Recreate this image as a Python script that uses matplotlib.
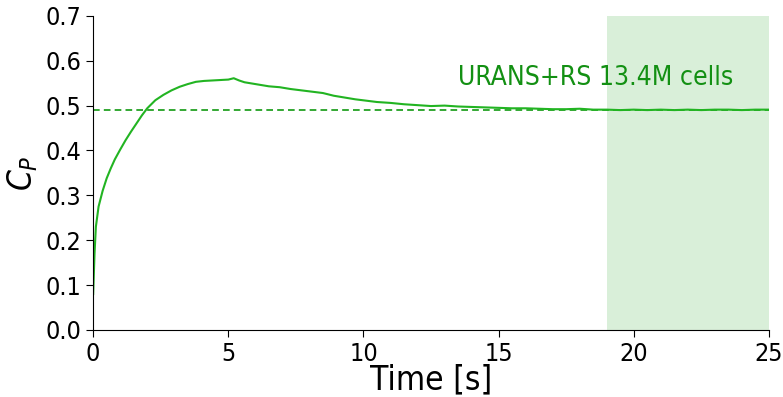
import matplotlib.pyplot as plt

# C_P history
t = [0, 0.05, 0.1, 0.2, 0.35, 0.5, 0.65, 0.8, 1.0, 1.2, 1.4, 1.6, 1.8, 2.0,
     2.3, 2.6, 2.9, 3.2, 3.5, 3.8, 4.1, 4.4, 4.7, 5.0, 5.2, 5.4, 5.6, 5.9,
     6.2, 6.5, 6.9, 7.3, 7.7, 8.1, 8.5, 8.9, 9.3, 9.7, 10.1, 10.5, 11.0,
     11.5, 12.0, 12.5, 13.0, 13.5, 14.0, 14.5, 15.0, 15.5, 16.0, 16.5, 17.0,
     17.5, 18.0, 18.5, 19.0, 19.5, 20.0, 20.5, 21.0, 21.5, 22.0, 22.5, 23.0,
     23.5, 24.0, 24.5, 25.0]
cp = [0.08, 0.17, 0.23, 0.275, 0.31, 0.338, 0.36, 0.38, 0.402, 0.423,
      0.442, 0.46, 0.478, 0.494, 0.512, 0.524, 0.534, 0.542, 0.548, 0.553,
      0.555, 0.556, 0.557, 0.558, 0.561, 0.556, 0.552, 0.549, 0.546, 0.543,
      0.541, 0.537, 0.534, 0.531, 0.528, 0.522, 0.518, 0.514, 0.511, 0.508,
      0.506, 0.503, 0.501, 0.499, 0.500, 0.498, 0.497, 0.496, 0.495, 0.494,
      0.494, 0.493, 0.492, 0.492, 0.493, 0.491, 0.491, 0.490, 0.491, 0.490,
      0.491, 0.490, 0.491, 0.490, 0.491, 0.491, 0.490, 0.491, 0.491]
cp_mean = 0.49
avg_window = (19, 25)
label = "URANS+RS 13.4M cells"

plt.rcParams["font.stretch"] = "condensed"

fig = plt.figure(figsize=(7.83, 3.97), dpi=100)
ax = fig.add_axes([0.119, 0.169, 0.863, 0.791])

ax.axvspan(avg_window[0], avg_window[1], color="#d9efd9", lw=0)
ax.axhline(cp_mean, color="#119911", linestyle="--", linewidth=1.2, dashes=(4, 2.5))
ax.plot(t, cp, color="#22b422", linewidth=1.5)
ax.text(13.5, 0.562, label, color="#139013", fontsize=19, va="center")

ax.set_xlim(0, 25)
ax.set_ylim(0, 0.7)
ax.set_xticks([0, 5, 10, 15, 20, 25])
ax.set_yticks([0.0, 0.1, 0.2, 0.3, 0.4, 0.5, 0.6, 0.7])
ax.tick_params(labelsize=18, length=5)
ax.set_xlabel("Time [s]", fontsize=24, labelpad=-2)
ax.set_ylabel("$C_P$", fontsize=24, labelpad=4)
ax.spines["top"].set_visible(False)
ax.spines["right"].set_visible(False)

fig.savefig("out.png", dpi=100)
